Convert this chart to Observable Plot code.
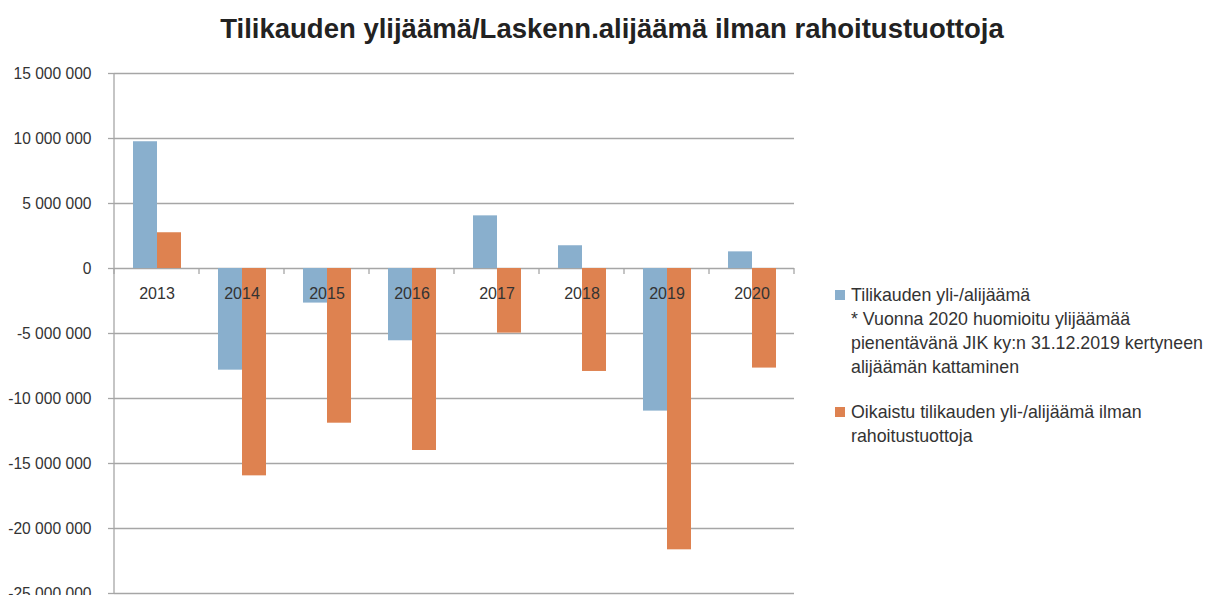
<!DOCTYPE html>
<html><head><meta charset="utf-8">
<script src="https://cdn.jsdelivr.net/npm/d3@7"></script>
<script src="https://cdn.jsdelivr.net/npm/@observablehq/plot@0.6"></script>
<style>
body{margin:0;background:#fff;font-family:"Liberation Sans",Arial,sans-serif;}
#wrap{position:relative;width:1212px;height:595px;overflow:hidden;}
#title{position:absolute;left:0;width:1224px;top:13px;text-align:center;font-weight:bold;font-size:27.5px;line-height:32px;color:#222;white-space:nowrap;}
#legend{position:absolute;left:835px;top:283px;font-size:17.8px;color:#333;line-height:24px;}
.item{display:flex;align-items:flex-start;margin-bottom:21px;}
.sw{width:10px;height:10px;margin-top:7px;margin-right:6px;flex:none;}
</style></head><body>
<div id="wrap"><div id="chart"></div><div id="title"></div><div id="legend"></div></div>
<script>
const years = ["2013","2014","2015","2016","2017","2018","2019","2020"];
const seriesNames = ["Tilikauden yli-/alijäämä", "Oikaistu tilikauden yli-/alijäämä ilman rahoitustuottoja"];
const surplus = [9750000, -7820000, -2660000, -5560000, 4050000, 1750000, -10970000, 1280000];
const adjusted = [2750000, -15950000, -11900000, -14000000, -4970000, -7920000, -21640000, -7660000];
const yTicks = [-25000000, -20000000, -15000000, -10000000, -5000000, 0, 5000000, 10000000, 15000000];
const colors = ["#89afcd", "#de8250"];
const titleText = "Tilikauden ylijäämä/Laskenn.alijäämä ilman rahoitustuottoja";
const legendLines = [
  ["Tilikauden yli-/alijäämä", "* Vuonna 2020 huomioitu ylijäämää", "pienentävänä JIK ky:n 31.12.2019 kertyneen", "alijäämän kattaminen"],
  ["Oikaistu tilikauden yli-/alijäämä ilman", "rahoitustuottoja"]
];

const rows = years.flatMap((yr, i) => [
  {year: yr, series: seriesNames[0], value: surplus[i]},
  {year: yr, series: seriesNames[1], value: adjusted[i]}
]);

const fmt = d => d3.format(",")(d).replace(/,/g, " ").replace("\u2212", "-");
const fontFamily = '"Liberation Sans", Arial, sans-serif';

const chart = Plot.plot({
  width: 1212, height: 595,
  marginLeft: 110, marginRight: 415, marginTop: 73, marginBottom: 2,
  fx: {domain: years, padding: 0, axis: null},
  x: {domain: seriesNames, paddingInner: 0, paddingOuter: 0.755, axis: null},
  y: {domain: [-25000000, 15000000], axis: null, label: null},
  color: {domain: seriesNames, range: colors},
  style: {fontFamily, fontSize: "15.5px", color: "#333", background: "#fff"},
  marks: [
    Plot.ruleY(yTicks, {stroke: "#a6a6a6", strokeWidth: 1.3}),
    Plot.barY(rows, {fx: "year", x: "series", y: "value", fill: "series"}),
    Plot.text(years, {fx: d => d, y: () => 0, text: d => d, dy: 25, fill: "#333", fontSize: 16}),
    Plot.axisY({ticks: yTicks, tickFormat: fmt, label: null, tickSize: 6, tickPadding: 17, stroke: "#a6a6a6", fill: "#333", fontSize: 15.6, strokeWidth: 1.3})
  ]
});
document.getElementById("chart").append(chart);

// axis line and category boundary ticks from the library's scales
const fxS = chart.scale("fx"), yS = chart.scale("y");
const svg = d3.select(chart);
const left = fxS.apply(years[0]), right = fxS.apply(years[years.length - 1]) + fxS.bandwidth;
svg.append("line").attr("x1", left).attr("x2", left).attr("y1", yS.apply(15000000)).attr("y2", yS.apply(-25000000))
  .attr("stroke", "#a6a6a6").attr("stroke-width", 1.3);
const y0 = yS.apply(0);
const bounds = years.map(yr => fxS.apply(yr)).concat([right]);
svg.selectAll("line.bt").data(bounds).join("line").attr("class", "bt")
  .attr("x1", d => d).attr("x2", d => d).attr("y1", y0).attr("y2", y0 + 6)
  .attr("stroke", "#a6a6a6").attr("stroke-width", 1.3);

document.getElementById("title").textContent = titleText;
const leg = d3.select("#legend");
legendLines.forEach((lines, i) => {
  const it = leg.append("div").attr("class", "item");
  it.append("div").attr("class", "sw").style("background", colors[i]);
  const t = it.append("div");
  lines.forEach((l, j) => { if (j) t.append("br"); t.append("span").text(l); });
});
</script>
</body></html>
